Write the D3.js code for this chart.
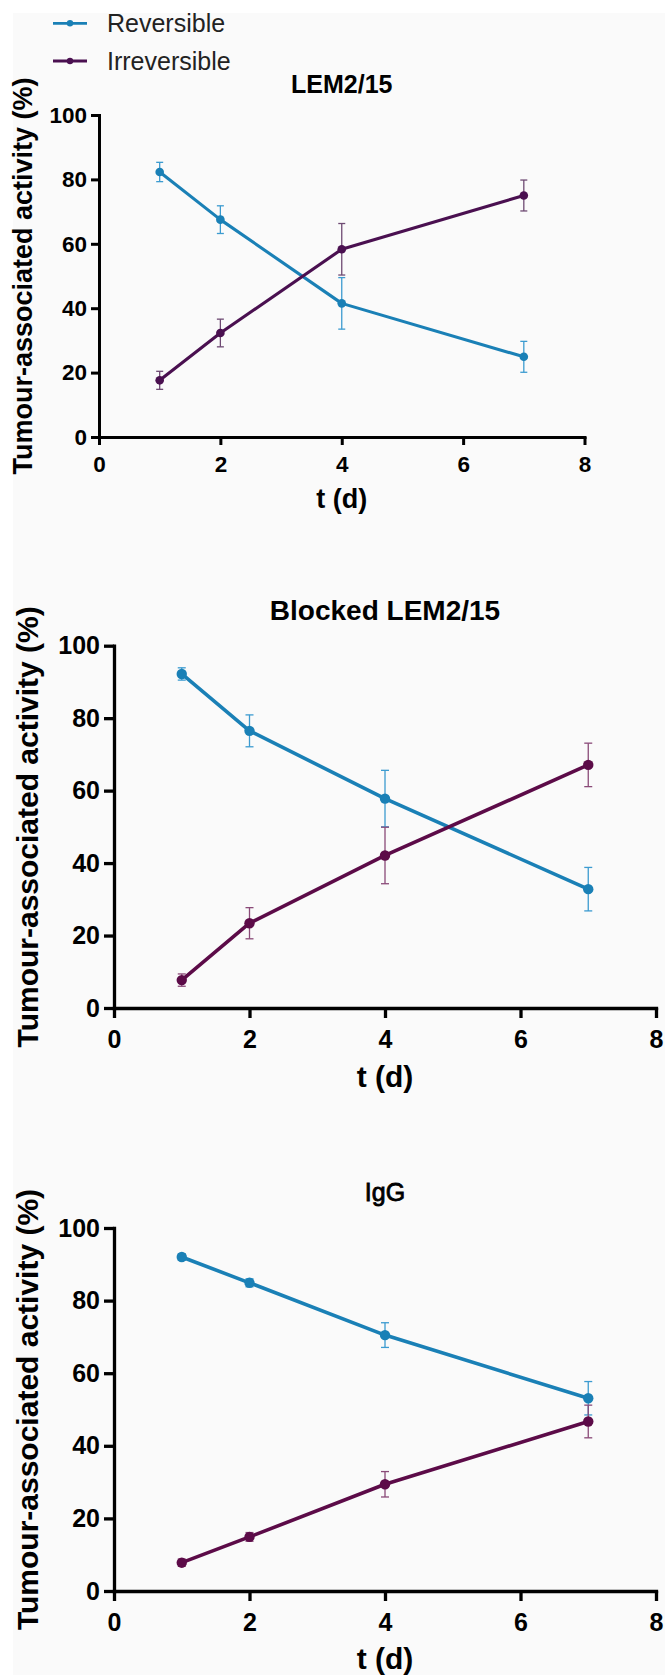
<!DOCTYPE html>
<html>
<head>
<meta charset="utf-8">
<script src="https://cdn.jsdelivr.net/npm/d3@7"></script>
<style>
    html, body { margin: 0; padding: 0; background: #fff; }
    svg { display: block; font-family: Arial, "Liberation Sans", Helvetica, sans-serif; }
</style>
</head>
<body>
<svg id="chart" width="665" height="1675"></svg>
<script>
// values (mean, error)
const days = [1, 2, 4, 7];
const xTicks = [0, 2, 4, 6, 8];
const yTicks = [0, 20, 40, 60, 80, 100];
const seriesNames = ['Reversible', 'Irreversible'];
const titles = ['LEM2/15', 'Blocked LEM2/15', 'IgG'];

const lemRev = [82.3, 67.5, 41.5, 24.9];
const lemRevErr = [3.0, 4.3, 8.0, 4.8];
const lemIrr = [17.6, 32.3, 58.3, 75.0];
const lemIrrErr = [2.8, 4.3, 8.0, 4.8];

const blockedRev = [92.2, 76.5, 57.8, 32.8];
const blockedRevErr = [1.7, 4.4, 7.8, 6.0];
const blockedIrr = [7.7, 23.4, 42.1, 67.1];
const blockedIrrErr = [1.7, 4.3, 7.8, 6.0];

const iggRev = [92.0, 84.9, 70.5, 53.1];
const iggRevErr = [0.9, 1.1, 3.4, 4.6];
const iggIrr = [7.8, 14.9, 29.4, 46.7];
const iggIrrErr = [1.0, 1.2, 3.5, 4.5];

const blue = '#1a80b6';
const blueErr = '#3c9bd0';

// panel geometry
const panels = [
    { title: titles[0], rev: lemRev, revErr: lemRevErr, irr: lemIrr, irrErr: lemIrrErr,
      left: 99, right: 584.5, top: 115, bottom: 437, axisW: 3, tick: 8, tickFont: 22.5, xPad: 11,
      labelFont: 27, labelX: 23, titleY: 84, titleFont: 25, titleWeight: 'bold', titleStroke: 0, xTitleY: 499,
      lineW: 3.1, r: 4.3, cap: 7, purple: '#4a1050', purpleErr: '#6e4a73' },
    { title: titles[1], rev: blockedRev, revErr: blockedRevErr, irr: blockedIrr, irrErr: blockedIrrErr,
      left: 114, right: 656, top: 645.7, bottom: 1008, axisW: 3.3, tick: 10, tickFont: 25, xPad: 12,
      labelFont: 30, labelX: 27, titleY: 610, titleFont: 28, titleWeight: 'bold', titleStroke: 0, xTitleY: 1076,
      lineW: 3.6, r: 5.2, cap: 8, purple: '#5c0b48', purpleErr: '#8a4a78' },
    { title: titles[2], rev: iggRev, revErr: iggRevErr, irr: iggIrr, irrErr: iggIrrErr,
      left: 114, right: 656, top: 1228, bottom: 1591, axisW: 3.3, tick: 10, tickFont: 25, xPad: 12,
      labelFont: 30, labelX: 27, titleY: 1192, titleFont: 25, titleWeight: 'normal', titleStroke: 0.8, xTitleY: 1658,
      lineW: 3.6, r: 5.2, cap: 8, purple: '#5c0b48', purpleErr: '#8a4a78' }
];

const svg = d3.select('#chart');
svg.append('rect').attr('x', 13).attr('y', 13).attr('width', 652).attr('height', 1662).attr('fill', '#fafafa');

panels.forEach(p => {
    const x = d3.scaleLinear().domain([0, 8]).range([p.left, p.right]);
    const y = d3.scaleLinear().domain([0, 100]).range([p.bottom, p.top]);
    const g = svg.append('g');

    const xAxis = g.append('g').attr('transform', `translate(0,${p.bottom})`)
        .call(d3.axisBottom(x).tickValues(xTicks).tickSize(p.tick).tickPadding(p.xPad).tickSizeOuter(0));
    const yAxis = g.append('g').attr('transform', `translate(${p.left},0)`)
        .call(d3.axisLeft(y).tickValues(yTicks).tickSize(p.tick).tickPadding(4).tickSizeOuter(0));
    [xAxis, yAxis].forEach(a => {
        a.select('.domain').attr('stroke', '#000').attr('stroke-width', p.axisW).attr('stroke-linecap', 'square');
        a.selectAll('.tick line').attr('stroke', '#000').attr('stroke-width', p.axisW);
        a.selectAll('.tick text').attr('fill', '#000').attr('font-size', p.tickFont).attr('font-weight', 'bold')
            .attr('font-family', 'Arial, "Liberation Sans", sans-serif');
    });

    g.append('text').attr('x', x(4)).attr('y', p.titleY).attr('text-anchor', 'middle').attr('dominant-baseline', 'central')
        .attr('font-size', p.titleFont).attr('font-weight', p.titleWeight)
        .attr('stroke', '#000').attr('stroke-width', p.titleStroke).text(p.title);
    g.append('text').attr('x', x(4)).attr('y', p.xTitleY).attr('text-anchor', 'middle').attr('dominant-baseline', 'central')
        .attr('font-size', p.labelFont).attr('font-weight', 'bold').text('t (d)');
    g.append('text').attr('transform', `translate(${p.labelX},${(p.top + p.bottom) / 2}) rotate(-90)`)
        .attr('text-anchor', 'middle').attr('dominant-baseline', 'central')
        .attr('font-size', p.labelFont).attr('font-weight', 'bold').text('Tumour-associated activity (%)');

    const series = [
        { values: p.rev, errs: p.revErr, color: blue, errColor: blueErr },
        { values: p.irr, errs: p.irrErr, color: p.purple, errColor: p.purpleErr }
    ];
    const line = d3.line().x((d, i) => x(days[i])).y(d => y(d));
    series.forEach(s => {
        const eb = g.append('g').attr('stroke', s.errColor).attr('stroke-width', 1.3).attr('fill', 'none');
        s.values.forEach((v, i) => {
            const cx = x(days[i]);
            const hi = y(v + s.errs[i]);
            const lo = y(v - s.errs[i]);
            eb.append('line').attr('x1', cx).attr('x2', cx).attr('y1', hi).attr('y2', lo);
            eb.append('line').attr('x1', cx - p.cap / 2).attr('x2', cx + p.cap / 2).attr('y1', hi).attr('y2', hi);
            eb.append('line').attr('x1', cx - p.cap / 2).attr('x2', cx + p.cap / 2).attr('y1', lo).attr('y2', lo);
        });
        g.append('path').datum(s.values).attr('d', line).attr('fill', 'none')
            .attr('stroke', s.color).attr('stroke-width', p.lineW).attr('stroke-linejoin', 'round');
        g.selectAll(null).data(s.values).join('circle')
            .attr('cx', (d, i) => x(days[i])).attr('cy', d => y(d)).attr('r', p.r).attr('fill', s.color);
    });
});

// legend (top of first panel)
const legendColors = [blue, panels[0].purple];
const legend = svg.append('g');
seriesNames.forEach((name, i) => {
    const ly = [23.3, 61][i];
    legend.append('line').attr('x1', 53).attr('x2', 87).attr('y1', ly).attr('y2', ly)
        .attr('stroke', legendColors[i]).attr('stroke-width', 2.8);
    legend.append('circle').attr('cx', 70).attr('cy', ly).attr('r', 3.2).attr('fill', legendColors[i]);
    legend.append('text').attr('x', 107).attr('y', ly).attr('dominant-baseline', 'central')
        .attr('font-size', 25).attr('fill', '#222').text(name);
});
</script>
</body>
</html>
